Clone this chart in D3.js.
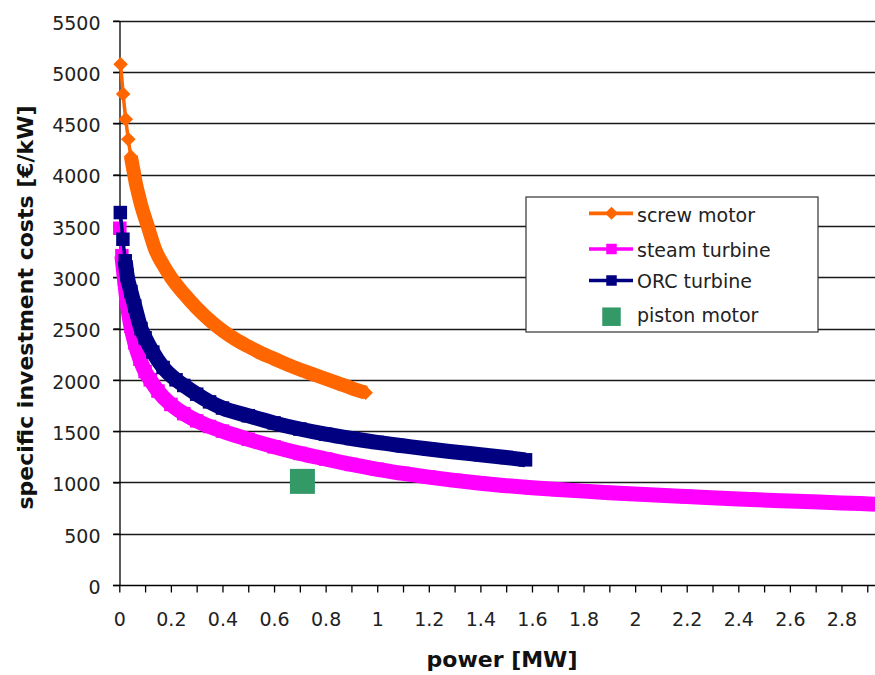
<!DOCTYPE html>
<html>
<head>
<meta charset="utf-8">
<script src="https://cdn.jsdelivr.net/npm/d3@7"></script>
<style>
  html, body { margin: 0; padding: 0; background: #fff; }
  svg { display: block; }
</style>
</head>
<body>
<svg id="chart" width="875" height="675"></svg>
<script>
// ---------------- data ----------------
const screwX = [0.005, 0.015, 0.025, 0.035, 0.045, 0.055, 0.065, 0.075, 0.085, 0.11, 0.14, 0.17, 0.2, 0.25, 0.3, 0.35, 0.4, 0.45, 0.5, 0.55, 0.6, 0.65, 0.7, 0.75, 0.8, 0.85, 0.9, 0.955];
const screwY = [5075, 4785, 4540, 4345, 4175, 4040, 3905, 3800, 3700, 3500, 3265, 3120, 3000, 2840, 2700, 2580, 2480, 2395, 2325, 2260, 2205, 2150, 2100, 2055, 2010, 1965, 1920, 1875];

const steamX = [0.002, 0.01, 0.02, 0.03, 0.045, 0.06, 0.08, 0.1, 0.12, 0.15, 0.2, 0.25, 0.3, 0.35, 0.4, 0.5, 0.6, 0.7, 0.8, 0.9, 1.0, 1.1, 1.2, 1.3, 1.4, 1.5, 1.6, 1.7, 1.8, 1.9, 2.0, 2.2, 2.4, 2.6, 2.8, 2.93];
const steamY = [3477, 3210, 2980, 2760, 2520, 2360, 2200, 2080, 2000, 1890, 1760, 1670, 1600, 1545, 1500, 1420, 1347, 1283, 1228, 1175, 1128, 1088, 1052, 1020, 992, 968, 948, 931, 915, 900, 887, 862, 838, 818, 800, 788];

const orcX = [0.004, 0.014, 0.023, 0.03, 0.045, 0.06, 0.084, 0.1, 0.13, 0.17, 0.22, 0.25, 0.3, 0.35, 0.4, 0.5, 0.6, 0.7, 0.8, 0.9, 1.0, 1.1, 1.2, 1.3, 1.4, 1.5, 1.575];
const orcY = [3630, 3370, 3160, 3020, 2860, 2720, 2500, 2410, 2270, 2120, 2000, 1945, 1860, 1785, 1725, 1650, 1580, 1520, 1470, 1428, 1390, 1357, 1325, 1297, 1270, 1243, 1220];

const pistonX = [0.71];
const pistonY = [1010];

const seriesNames = ["screw motor", "steam turbine", "ORC turbine", "piston motor"];
const yTicks = [0, 500, 1000, 1500, 2000, 2500, 3000, 3500, 4000, 4500, 5000, 5500];
const xTicks = [0, 0.1, 0.2, 0.3, 0.4, 0.5, 0.6, 0.7, 0.8, 0.9, 1, 1.1, 1.2, 1.3, 1.4, 1.5, 1.6, 1.7, 1.8, 1.9, 2, 2.1, 2.2, 2.3, 2.4, 2.5, 2.6, 2.7, 2.8, 2.9];
const xTickLabels = ["0", "0.2", "0.4", "0.6", "0.8", "1", "1.2", "1.4", "1.6", "1.8", "2", "2.2", "2.4", "2.6", "2.8"];
const xTitle = "power [MW]";
const yTitle = "specific investment costs [€/kW]";

// ---------------- layout ----------------
const svg = d3.select("#chart");
const x = d3.scaleLinear().domain([0, 2.93]).range([119.3, 875]);
const y = d3.scaleLinear().domain([0, 5500]).range([585, 20.7]);
const FONT = "'DejaVu Sans', Verdana, sans-serif";

// gridlines
svg.append("g").selectAll("line")
  .data(yTicks.filter(v => v > 0))
  .join("line")
  .attr("x1", 113).attr("x2", 875)
  .attr("y1", d => Math.round(y(d)) + 0.5).attr("y2", d => Math.round(y(d)) + 0.5)
  .attr("stroke", "#1a1a1a").attr("stroke-width", 1.3);

// y axis
const yAxis = svg.append("g")
  .attr("transform", "translate(119.5,0)")
  .call(d3.axisLeft(y).tickValues(yTicks).tickFormat(d => String(d))
    .tickSize(6).tickPadding(13).tickSizeOuter(0));
yAxis.select(".domain").attr("stroke", "#000").attr("stroke-width", 1.3);
yAxis.selectAll(".tick line").attr("stroke", "#000").attr("stroke-width", 1.3);
yAxis.selectAll(".tick text")
  .attr("font-family", FONT).attr("font-size", 19).attr("fill", "#222")
  .attr("dy", "0.44em");

// x axis
const labelSet = new Map(xTickLabels.map(s => [+s, s]));
const xAxis = svg.append("g")
  .attr("transform", "translate(0,585.5)")
  .call(d3.axisBottom(x).tickValues(xTicks).tickSize(7).tickPadding(20).tickSizeOuter(0)
    .tickFormat(d => {
      for (const [k, s] of labelSet) if (Math.abs(k - d) < 1e-6) return s;
      return "";
    }));
xAxis.select(".domain").attr("stroke", "#000").attr("stroke-width", 1.3)
  .attr("d", "M113,0H875");
xAxis.selectAll(".tick line").attr("stroke", "#000").attr("stroke-width", 1.3);
xAxis.selectAll(".tick text")
  .attr("font-family", FONT).attr("font-size", 19).attr("fill", "#222");

// axis titles
svg.append("text")
  .attr("x", 502).attr("y", 667)
  .attr("text-anchor", "middle")
  .attr("font-family", FONT).attr("font-weight", "bold").attr("font-size", 22)
  .attr("fill", "#111")
  .text(xTitle);
svg.append("text")
  .attr("transform", "translate(33,307.5) rotate(-90)")
  .attr("text-anchor", "middle")
  .attr("font-family", FONT).attr("font-weight", "bold").attr("font-size", 22)
  .attr("fill", "#111")
  .text(yTitle);

// ---------------- series ----------------
const diamond = r => `M0,${-r}L${r},0L0,${r}L${-r},0Z`;
const square = s => `M${-s/2},${-s/2}h${s}v${s}h${-s}Z`;

const series = [
  { name: seriesNames[0], xs: screwX, ys: screwY, color: "#FF6600", marker: diamond(7.3), band: 14, bandFrom: 4 },
  { name: seriesNames[1], xs: steamX, ys: steamY, color: "#FF00FF", marker: square(13.5), band: 15, bandFrom: 1 },
  { name: seriesNames[2], xs: orcX, ys: orcY, color: "#000080", marker: square(13.5), band: 15, bandFrom: 2 }
];

const line = d3.line().x(d => x(d[0])).y(d => y(d[1])).curve(d3.curveMonotoneX);

series.forEach(s => {
  const pts = s.xs.map((v, i) => [v, s.ys[i]]);
  const g = svg.append("g");
  g.append("path").attr("d", line(pts))
    .attr("fill", "none").attr("stroke", s.color).attr("stroke-width", 3.5)
    .attr("stroke-linejoin", "round");
  g.append("path").attr("d", line(pts.slice(s.bandFrom)))
    .attr("fill", "none").attr("stroke", s.color).attr("stroke-width", s.band)
    .attr("stroke-linejoin", "round").attr("stroke-linecap", "butt");
  g.selectAll("path.m").data(pts).join("path").attr("class", "m")
    .attr("transform", d => `translate(${x(d[0])},${y(d[1])})`)
    .attr("d", s.marker).attr("fill", s.color);
});

// piston motor
svg.append("g").selectAll("path")
  .data(pistonX.map((v, i) => [v, pistonY[i]]))
  .join("path")
  .attr("transform", d => `translate(${x(d[0])},${y(d[1])})`)
  .attr("d", square(25)).attr("fill", "#339966");

// ---------------- legend ----------------
const lg = svg.append("g");
lg.append("rect").attr("x", 526).attr("y", 197).attr("width", 292).attr("height", 135)
  .attr("fill", "#fff").attr("stroke", "#333").attr("stroke-width", 1.2);
const legendRows = [
  { name: seriesNames[0], color: "#FF6600", marker: diamond(6.5), lineY: 213.3, textY: 221.7, line: true },
  { name: seriesNames[1], color: "#FF00FF", marker: square(10.5), lineY: 249, textY: 256.7, line: true },
  { name: seriesNames[2], color: "#000080", marker: square(10.5), lineY: 280.5, textY: 288.3, line: true },
  { name: seriesNames[3], color: "#339966", marker: square(18.5), lineY: 316.7, textY: 321.7, line: false }
];
legendRows.forEach(r => {
  if (r.line) {
    lg.append("line").attr("x1", 589).attr("x2", 633).attr("y1", r.lineY).attr("y2", r.lineY)
      .attr("stroke", r.color).attr("stroke-width", 3.7);
  }
  lg.append("path").attr("transform", `translate(611.5,${r.lineY})`).attr("d", r.marker).attr("fill", r.color);
  lg.append("text").attr("x", 637).attr("y", r.textY)
    .attr("font-family", FONT).attr("font-size", 19).attr("fill", "#222")
    .text(r.name);
});
</script>
</body>
</html>
